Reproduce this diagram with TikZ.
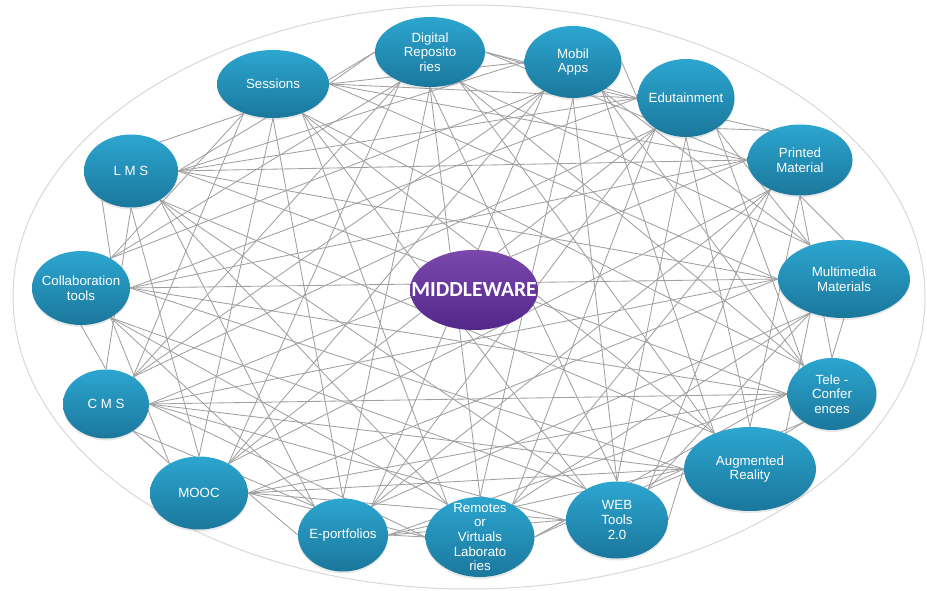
\documentclass[tikz,border=0pt]{standalone}
\usepackage{fontspec}
\setmainfont{Liberation Sans}
\newfontfamily\hubfont{Carlito}
\usetikzlibrary{shapes.geometric,calc,backgrounds,shadows}

\definecolor{tealtop}{HTML}{2CA6D0}
\definecolor{tealbot}{HTML}{1B779C}
\definecolor{purtop}{HTML}{7B48AC}
\definecolor{purbot}{HTML}{52278A}
\definecolor{linkgray}{HTML}{A0A0A0}
\definecolor{ringgray}{HTML}{DCD6D6}

\begin{document}
\begin{tikzpicture}[x=1pt,y=-1pt,
  tool/.style={ellipse, inner sep=0pt, draw=none,
    top color=tealtop, bottom color=tealbot,
    drop shadow={opacity=0.18, shadow xshift=0pt, shadow yshift=-2pt}},
  tooltext/.style={inner sep=0pt, text=white, align=center,
    font=\fontsize{13.3}{14.7}\selectfont},
  hub/.style={ellipse, inner sep=0pt, draw=none,
    top color=purtop, bottom color=purbot},
  hubtext/.style={inner sep=0pt, text=white,
    font=\hubfont\bfseries\fontsize{21.5}{23}\selectfont},
  link/.style={draw=linkgray, line width=0.85pt},
  ring/.style={draw=ringgray, line width=1pt}]

\useasboundingbox (0,0) rectangle (927,591);

% outer ellipses, clockwise from the top left
\node[tool, minimum width=112pt, minimum height=68pt] (t1)  at (273,84)  {};
\node[tool, minimum width=110pt, minimum height=70pt] (t2)  at (430,52)  {};
\node[tool, minimum width=97pt,  minimum height=72pt] (t3)  at (573,62)  {};
\node[tool, minimum width=97pt,  minimum height=78pt] (t4)  at (686,98)  {};
\node[tool, minimum width=105pt, minimum height=71pt] (t5)  at (800,160) {};
\node[tool, minimum width=132pt, minimum height=78pt] (t6)  at (844,279) {};
\node[tool, minimum width=89pt,  minimum height=72pt] (t7)  at (832,394) {};
\node[tool, minimum width=132pt, minimum height=84pt] (t8)  at (750,469) {};
\node[tool, minimum width=102pt, minimum height=77pt] (t9)  at (617,520) {};
\node[tool, minimum width=109pt, minimum height=80pt] (t10) at (480,537) {};
\node[tool, minimum width=90pt,  minimum height=73pt] (t11) at (343,535) {};
\node[tool, minimum width=98pt,  minimum height=73pt] (t12) at (199,493) {};
\node[tool, minimum width=86pt,  minimum height=69pt] (t13) at (106,404) {};
\node[tool, minimum width=98pt,  minimum height=74pt] (t14) at (81,288)  {};
\node[tool, minimum width=94pt,  minimum height=73pt] (t15) at (131,171) {};

% their captions
\node[tooltext] (c1)  at (t1)  {Sessions};
\node[tooltext] (c2)  at (t2)  {Digital\\Reposito\\ries};
\node[tooltext] (c3)  at (t3)  {Mobil\\Apps};
\node[tooltext] (c4)  at (t4)  {Edutainment};
\node[tooltext] (c5)  at (t5)  {Printed\\Material};
\node[tooltext] (c6)  at (t6)  {Multimedia\\Materials};
\node[tooltext] (c7)  at (t7)  {Tele -\\Confer\\ences};
\node[tooltext] (c8)  at (t8)  {Augmented\\Reality};
\node[tooltext] (c9)  at (t9)  {WEB\\Tools\\2.0};
\node[tooltext] (c10) at (t10) {Remotes\\or\\Virtuals\\Laborato\\ries};
\node[tooltext] (c11) at (t11) {E-portfolios};
\node[tooltext] (c12) at (t12) {MOOC};
\node[tooltext] (c13) at (t13) {C M S};
\node[tooltext] (c14) at (t14) {Collaboration\\tools};
\node[tooltext] (c15) at (t15) {L M S};

% central hub
\node[hub, minimum width=128pt, minimum height=80pt] (mw) at (474,290) {};
\node[hubtext] (mwc) at (mw) {MIDDLEWARE};

\begin{scope}[on background layer]
  \draw[ring] (469,297) ellipse [x radius=456pt, y radius=292pt];
  % every tool linked to every other, each end at the nearest of eight border points
  \foreach \i in {1,...,14}{
    \pgfmathtruncatemacro\first{\i+1}
    \foreach \j in {\first,...,15}{
      \draw[link] let \p1=(t\i.center), \p2=(t\j.center),
        \n1={int(mod(int(45*round(atan2(\y2-\y1,\x2-\x1)/45))+360,360))},
        \n2={int(mod(int(45*round(atan2(\y1-\y2,\x1-\x2)/45))+360,360))}
        in (t\i.\n1) -- (t\j.\n2);
    }
  }
\end{scope}
\end{tikzpicture}
\end{document}
